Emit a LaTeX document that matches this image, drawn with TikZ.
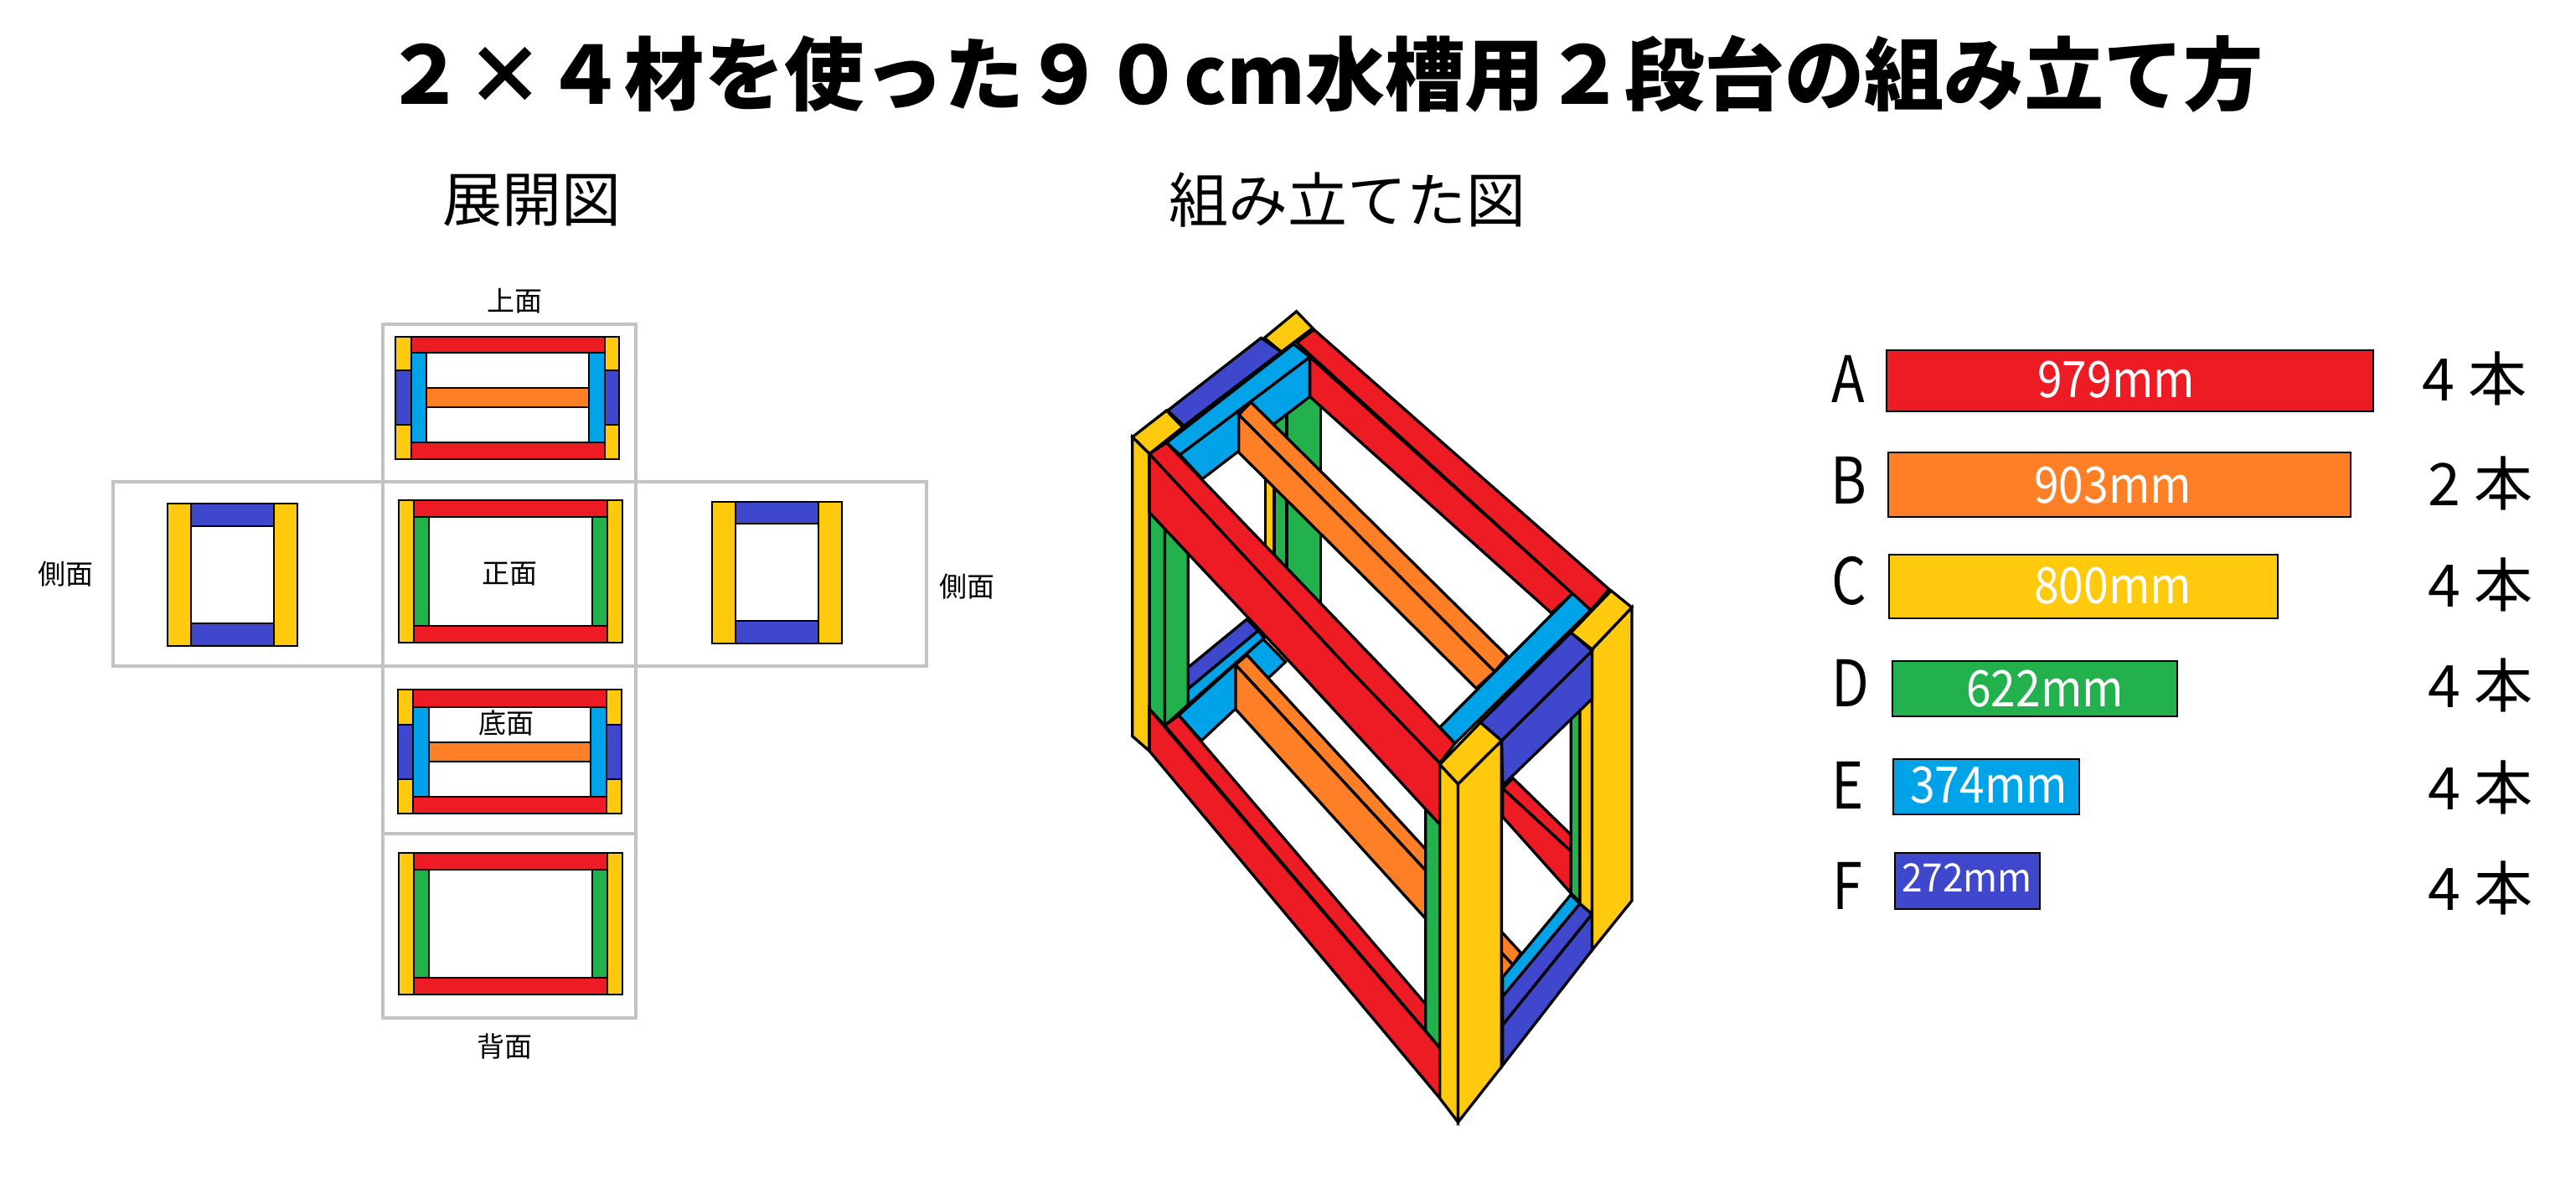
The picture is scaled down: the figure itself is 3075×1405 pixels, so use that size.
\documentclass[tikz,border=0pt]{standalone}
\usepackage{graphicx}
\usepackage{fontspec}
\setmainfont{Noto Sans CJK JP}
\definecolor{cR}{HTML}{ED1C24}
\definecolor{cO}{HTML}{FF7F27}
\definecolor{cY}{HTML}{FFC90E}
\definecolor{cG}{HTML}{22B14C}
\definecolor{cB}{HTML}{00A2E8}
\definecolor{cI}{HTML}{3F48CC}
\definecolor{cgrid}{HTML}{C3C3C3}
\newcommand\fsz[1]{\fontsize{#1}{#1}\selectfont}
\newcommand\cond[2]{\scalebox{#1}[1]{#2}}
\tikzset{
  part/.style={draw=black,line width=.7pt,line join=miter},
  pR/.style={part,fill=cR},pO/.style={part,fill=cO},pY/.style={part,fill=cY},
  pG/.style={part,fill=cG},pB/.style={part,fill=cB},pI/.style={part,fill=cI},
  beam/.style={draw=black,line width=1pt,line join=miter},
  bR/.style={beam,fill=cR},bO/.style={beam,fill=cO},bY/.style={beam,fill=cY},
  bG/.style={beam,fill=cG},bB/.style={beam,fill=cB},bI/.style={beam,fill=cI},
  gridline/.style={draw=cgrid,line width=1pt},
  txt/.style={inner sep=0pt,outer sep=0pt,text=black},
  small/.style={txt,font=\fsz{9.9}},
  head/.style={txt,font=\fsz{21.3}},
  lett/.style={txt,font=\fsz{23}},
  num/.style={txt,font=\fsz{18},text=white},
  qty/.style={txt,font=\fsz{21}},
  bar/.style={draw=black,line width=.85pt},
}
\begin{document}
\begin{tikzpicture}[x=0.3pt,y=-0.3pt]
\useasboundingbox[fill=white] (0,0) rectangle (3075,1405);
% titles
\node[txt,font=\fsz{28.6}\bfseries] (title) at (1581,88) {２×４材を使った９０cm水槽用２段台の組み立て方};
\node[head] (hA) at (635,239) {展開図};
\node[head] (hB) at (1608,239) {組み立てた図};
% grid
\draw[gridline] (457,387) rectangle (759,1215);
\draw[gridline] (135,575) rectangle (1106,795);
\draw[gridline] (457,995) -- (759,995);
% top panel
\draw[pY] (472,402) rectangle (491,442);
\draw[pI] (472,442) rectangle (491,507);
\draw[pY] (472,507) rectangle (491,548);
\draw[pY] (722,402) rectangle (739,442);
\draw[pI] (722,442) rectangle (739,507);
\draw[pY] (722,507) rectangle (739,548);
\draw[pO] (509,463) rectangle (703,486);
\draw[pB] (491,421) rectangle (509,528);
\draw[pB] (703,421) rectangle (722,528);
\draw[pR] (491,402) rectangle (722,421);
\draw[pR] (491,528) rectangle (722,548);
% front panel
\draw[pY] (476,597) rectangle (494,767);
\draw[pY] (725,597) rectangle (743,767);
\draw[pG] (494,617) rectangle (512,747);
\draw[pG] (707,617) rectangle (725,747);
\draw[pR] (494,597) rectangle (725,617);
\draw[pR] (494,747) rectangle (725,767);
% bottom panel
\draw[pY] (475,823) rectangle (493,865);
\draw[pI] (475,865) rectangle (493,930);
\draw[pY] (475,930) rectangle (493,971);
\draw[pY] (724,823) rectangle (742,865);
\draw[pI] (724,865) rectangle (742,930);
\draw[pY] (724,930) rectangle (742,971);
\draw[pO] (512,886) rectangle (705,909);
\draw[pB] (493,844) rectangle (512,951);
\draw[pB] (705,844) rectangle (724,951);
\draw[pR] (493,823) rectangle (724,844);
\draw[pR] (493,951) rectangle (724,971);
% back panel
\draw[pY] (476,1018) rectangle (494,1187);
\draw[pY] (725,1018) rectangle (743,1187);
\draw[pG] (494,1038) rectangle (512,1167);
\draw[pG] (707,1038) rectangle (725,1167);
\draw[pR] (494,1018) rectangle (725,1038);
\draw[pR] (494,1167) rectangle (725,1187);
% left side
\draw[pY] (200,601) rectangle (228,771);
\draw[pY] (327,601) rectangle (355,771);
\draw[pI] (228,601) rectangle (327,628);
\draw[pI] (228,744) rectangle (327,771);
% right side
\draw[pY] (850,599) rectangle (878,768);
\draw[pY] (977,599) rectangle (1005,768);
\draw[pI] (878,599) rectangle (977,625);
\draw[pI] (878,741) rectangle (977,768);
% small labels
\node[small] (lTop) at (614,359) {上面};
\node[small] (lFront) at (608,685) {正面};
\node[small] (lBottom) at (604,863) {底面};
\node[small] (lBack) at (602,1249) {背面};
\node[small] (lLeft) at (78,685) {側面};
\node[small] (lRight) at (1154,700) {側面};
% 3D frame
\begin{scope}[shift={(1280,340)},x=0.14542pt,y=-0.1pt]
\draw[bY] (475,640) rectangle (497,1010);
\draw[bG] (497,470) rectangle (528,1060);
\draw[bG] (528,400) rectangle (612,1160);
\draw[bB] (265,608) -- (585,258) -- (585,400) -- (320,695) -- cycle;
\draw[bR] (585,258) -- (1232,1105) -- (1180,1175) -- (585,400) -- cycle;
\draw[bO] (440,420) -- (1072,1330) -- (1040,1385) -- (410,465) -- cycle;
\draw[bO] (410,465) -- (1040,1385) -- (995,1445) -- (410,600) -- cycle;
\draw[bR] (595,160) -- (1322,1090) -- (1277,1165) -- (553,207) -- cycle;
\draw[bB] (545,212) -- (585,258) -- (265,608) -- (232,565) -- cycle;
\draw[bI] (465,190) -- (515,240) -- (275,505) -- (235,450) -- cycle;
\draw[bY] (552,95) -- (592,155) -- (515,240) -- (473,190) -- cycle;
\draw[bY] (232,450) -- (272,510) -- (190,605) -- (148,545) -- cycle;
% lower back
\draw[bI] (430,1197) -- (458,1238) -- (285,1447) -- (285,1370) -- cycle;
\draw[bB] (458,1238) -- (472,1265) -- (285,1503) -- (285,1447) -- cycle;
\draw[bB] (262,1541) -- (470,1268) -- (525,1350) -- (318,1632) -- cycle;
\draw[bO] (430,1325) -- (1105,2392) -- (1085,2435) -- (402,1360) -- cycle;
\draw[bO] (402,1360) -- (1085,2435) -- (1060,2573) -- (870,2269) -- (402,1519) -- cycle;
% left post
\draw[bG] (190,815) -- (228,815) -- (228,1578) -- (190,1519) -- cycle;
\draw[bG] (228,815) -- (285,815) -- (285,1503) -- (228,1578) -- cycle;
\draw[bY] (148,545) -- (190,605) -- (190,1669) -- (148,1616) -- cycle;
% lower front red
\draw[bR] (228,1578) -- (262,1541) -- (870,2575) -- (870,2671) -- cycle;
\draw[bR] (190,1519) -- (905,2732) -- (905,2912) -- (190,1669) -- cycle;
% right-front inner green
\draw[bG] (870,1750) -- (905,1750) -- (905,2732) -- (870,2671) -- cycle;
% back lower right red
\draw[bR] (1085,1766) -- (1228,1969) -- (1228,2028) -- (1060,1803) -- cycle;
\draw[bR] (1060,1803) -- (1228,2028) -- (1228,2178) -- (1060,1905) -- cycle;
% rear-right post inner
\draw[bG] (1228,1500) -- (1250,1500) -- (1250,2210) -- (1228,2178) -- cycle;
\draw[bY] (1250,1450) -- (1280,1450) -- (1280,2253) -- (1250,2216) -- cycle;
% lower right beam
\draw[bB] (1228,2183) -- (1250,2216) -- (1060,2548) -- (1060,2478) -- cycle;
\draw[bI] (1250,2216) -- (1280,2253) -- (1060,2650) -- (1060,2548) -- cycle;
\draw[bI] (1280,2253) -- (1280,2382) -- (1060,2794) -- (1060,2650) -- cycle;
\draw[bY] (1280,1305) -- (1378,1155) -- (1378,2205) -- (1280,2382) -- cycle;
% right top beam
\draw[bB] (1232,1105) -- (1277,1165) -- (942,1642) -- (905,1584) -- cycle;
\draw[bI] (1280,1310) -- (1280,1482) -- (1060,1792) -- (1057,1632) -- cycle;
\draw[bI] (1228,1245) -- (1280,1310) -- (1057,1632) -- (1005,1567) -- cycle;
\draw[bY] (1327,1095) -- (1378,1155) -- (1280,1305) -- (1228,1245) -- cycle;
% front top red
\draw[bR] (190,605) -- (685,1380) -- (905,1712) -- (905,1932) -- (555,1380) -- (190,815) -- cycle;
\draw[bR] (232,565) -- (770,1380) -- (942,1642) -- (905,1712) -- (685,1380) -- (190,605) -- cycle;
% front post
\draw[bY] (905,1717) -- (950,1787) -- (950,2998) -- (905,2912) -- cycle;
\draw[bY] (950,1787) -- (1057,1632) -- (1057,2800) -- (950,2998) -- cycle;
\draw[bY] (905,1717) -- (1005,1567) -- (1057,1632) -- (950,1787) -- cycle;
\end{scope}
% legend
\node[lett] (la) at (2206,452) {\cond{.85}{A}};
\node[lett] (lb) at (2207,573) {\cond{.85}{B}};
\node[lett] (lc) at (2207,693) {\cond{.85}{C}};
\node[lett] (ld) at (2209,815) {\cond{.85}{D}};
\node[lett] (le) at (2206,937) {\cond{.85}{E}};
\node[lett] (lf) at (2205,1057) {\cond{.85}{F}};
\draw[bar,fill=cR] (2252,418) rectangle (2833,491);
\draw[bar,fill=cO] (2254,540) rectangle (2806,617);
\draw[bar,fill=cY] (2255,662) rectangle (2719,738);
\draw[bar,fill=cG] (2259,789) rectangle (2599,855);
\draw[bar,fill=cB] (2260,906) rectangle (2482,972);
\draw[bar,fill=cI] (2262,1018) rectangle (2435,1085);
\node[num] (na) at (2526,453) {\cond{.89}{979mm}};
\node[num] (nb) at (2522,579) {\cond{.89}{903mm}};
\node[num] (nc) at (2522,699) {\cond{.89}{800mm}};
\node[num] (nd) at (2441,822) {\cond{.89}{622mm}};
\node[num] (ne) at (2374,937) {\cond{.89}{374mm}};
\node[num,font=\fsz{14}] (nf) at (2348,1048) {\cond{.95}{272mm}};
\node[qty] (qa) at (2954,452) {4 本};
\node[qty] (qb) at (2961,577) {2 本};
\node[qty] (qc) at (2961,698) {4 本};
\node[qty] (qd) at (2961,818) {4 本};
\node[qty] (qe) at (2961,940) {4 本};
\node[qty] (qf) at (2961,1060) {4 本};
\end{tikzpicture}
\end{document}
